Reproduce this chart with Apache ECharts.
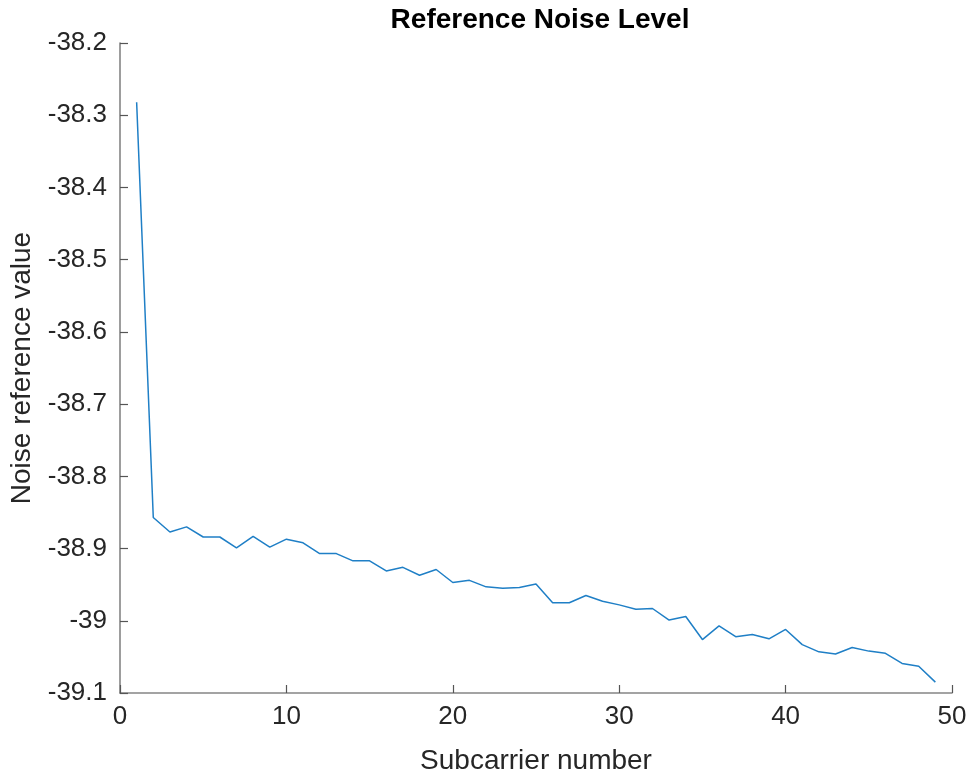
<!DOCTYPE html>
<html>
<head>
<meta charset="utf-8">
<title>Reference Noise Level</title>
<script src="https://cdn.jsdelivr.net/npm/echarts@6/dist/echarts.min.js"></script>
<style>
  html, body { margin: 0; padding: 0; background: #fff; }
  #chart { width: 970px; height: 780px; }
</style>
</head>
<body>
<div id="chart"></div>
<script>
// Subcarrier index (1..49) and noise reference values
const subcarriers = [
  1, 2, 3, 4, 5, 6, 7, 8, 9, 10,
  11, 12, 13, 14, 15, 16, 17, 18, 19, 20,
  21, 22, 23, 24, 25, 26, 27, 28, 29, 30,
  31, 32, 33, 34, 35, 36, 37, 38, 39, 40,
  41, 42, 43, 44, 45, 46, 47, 48, 49
];
const noiseValues = [
  -38.282, -38.857, -38.877, -38.870, -38.884, -38.884, -38.899, -38.883, -38.898, -38.887,
  -38.892, -38.907, -38.907, -38.917, -38.917, -38.931, -38.926, -38.937, -38.929, -38.947,
  -38.944, -38.953, -38.955, -38.954, -38.949, -38.975, -38.975, -38.965, -38.973, -38.978,
  -38.984, -38.983, -38.999, -38.994, -39.026, -39.007, -39.022, -39.019, -39.025, -39.012,
  -39.033, -39.043, -39.046, -39.037, -39.042, -39.045, -39.059, -39.063, -39.085
];
const xTicks = [0, 50, 10];       // min, max, step
const yTicks = [-39.1, -38.2, 0.1];

const FONT = '"Liberation Sans", Arial, Helvetica, sans-serif';
const TEXT = '#262626';

const chart = echarts.init(document.getElementById('chart'));

chart.setOption({
  animation: false,
  backgroundColor: '#ffffff',
  title: {
    text: 'Reference Noise Level',
    left: 535,
    top: 1,
    textAlign: 'center',
    textStyle: { fontFamily: FONT, fontSize: 28, fontWeight: 'bold', color: '#000' }
  },
  grid: { left: 119, right: 18, top: 43, bottom: 80, containLabel: false },
  xAxis: {
    type: 'value',
    min: xTicks[0],
    max: xTicks[1],
    interval: xTicks[2],
    name: 'Subcarrier number',
    nameLocation: 'middle',
    nameGap: 54,
    nameTextStyle: { fontFamily: FONT, fontSize: 28, color: TEXT },
    axisLine: { show: true, onZero: false, lineStyle: { color: '#858585', width: 1.6 } },
    axisTick: { show: true, inside: true, length: 8, lineStyle: { color: '#555', width: 1.2 } },
    axisLabel: { fontFamily: FONT, fontSize: 26, color: TEXT, margin: 11 },
    splitLine: { show: false }
  },
  yAxis: {
    type: 'value',
    min: yTicks[0],
    max: yTicks[1],
    interval: yTicks[2],
    name: 'Noise reference value',
    nameLocation: 'middle',
    nameGap: 84,
    nameTextStyle: { fontFamily: FONT, fontSize: 28, color: TEXT },
    axisLine: { show: true, onZero: false, lineStyle: { color: '#858585', width: 1.6 } },
    axisTick: { show: true, inside: true, length: 8, lineStyle: { color: '#555', width: 1.2 } },
    axisLabel: {
      fontFamily: FONT, fontSize: 26, color: TEXT, margin: 13,
      formatter: (v) => String(parseFloat(v.toFixed(1)))
    },
    splitLine: { show: false }
  },
  series: [{
    type: 'line',
    data: subcarriers.map((x, i) => [x, noiseValues[i]]),
    showSymbol: false,
    lineStyle: { color: '#1f7fc6', width: 1.5 },
    itemStyle: { color: '#1f7fc6' }
  }]
});
</script>
</body>
</html>
